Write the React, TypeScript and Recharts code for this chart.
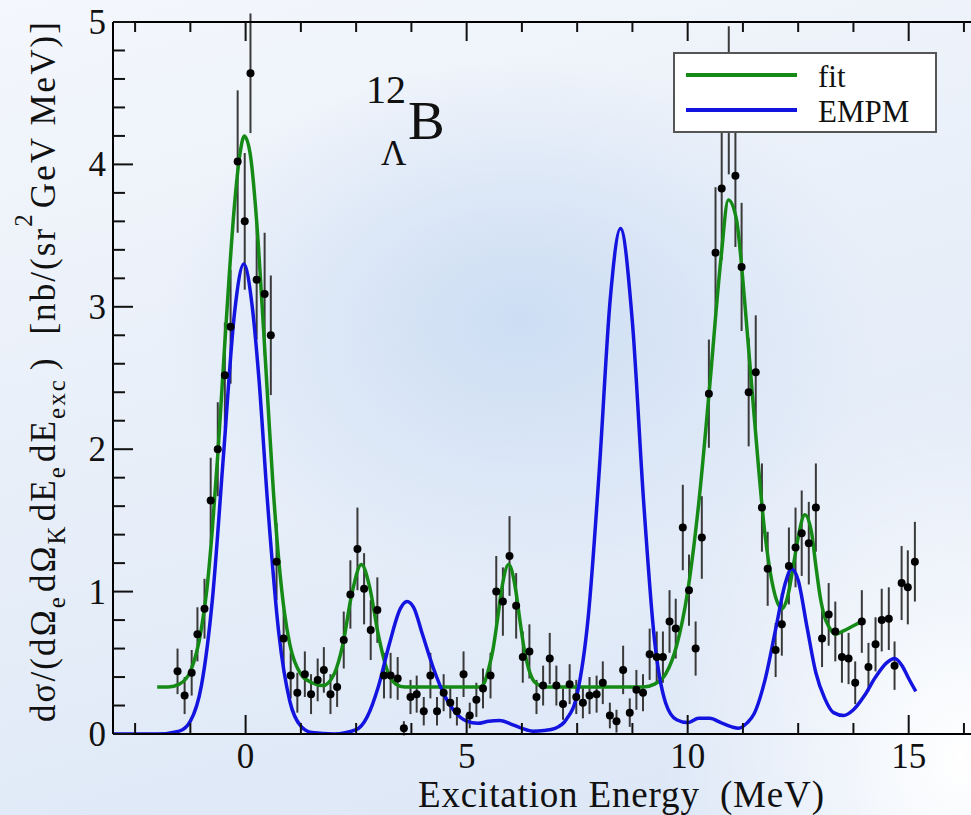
import React from "react";
import { ComposedChart, Line, Scatter, ErrorBar, XAxis, YAxis, Legend } from "recharts";

// measured cross sections (points with y error bars)
const dataEnergy = [
  -1.54, -1.38, -1.22, -1.09, -0.93, -0.79, -0.63, -0.47, -0.34, -0.18,
  -0.02, 0.11, 0.25, 0.43, 0.57, 0.7, 0.86, 1.02, 1.17, 1.34,
  1.48, 1.63, 1.77, 1.92, 2.07, 2.22, 2.37, 2.53, 2.68, 2.83,
  2.98, 3.13, 3.28, 3.44, 3.58, 3.73, 3.87, 4.03, 4.18, 4.33,
  4.48, 4.63, 4.78, 4.93, 5.07, 5.22, 5.37, 5.54, 5.67, 5.82,
  5.97, 6.12, 6.27, 6.42, 6.58, 6.73, 6.88, 7.03, 7.18, 7.33,
  7.48, 7.63, 7.78, 7.94, 8.08, 8.24, 8.39, 8.54, 8.69, 8.84,
  8.99, 9.14, 9.3, 9.44, 9.59, 9.73, 9.89, 10.03, 10.18, 10.32,
  10.48, 10.63, 10.77, 10.93, 11.08, 11.22, 11.38, 11.54, 11.68, 11.81,
  11.99, 12.13, 12.29, 12.44, 12.58, 12.74, 12.9, 13.04, 13.19, 13.34,
  13.49, 13.64, 13.79, 13.94, 14.09, 14.25, 14.39, 14.55, 14.68, 14.84,
  14.98, 15.14,
];
const dataSigma = [
  0.44, 0.27, 0.43, 0.7, 0.88, 1.64, 2.0, 2.52, 2.86, 4.02,
  3.6, 4.64, 3.19, 3.09, 2.8, 1.21, 0.67, 0.41, 0.29, 0.42,
  0.28, 0.38, 0.45, 0.28, 0.33, 0.66, 0.98, 1.3, 1.02, 0.73,
  0.87, 0.41, 0.41, 0.39, 0.04, 0.26, 0.28, 0.16, 0.41, 0.16,
  0.29, 0.22, 0.16, 0.42, 0.13, 0.24, 0.32, 0.41, 1.0, 0.93,
  1.25, 0.9, 0.54, 0.58, 0.26, 0.34, 0.53, 0.34, 0.21, 0.35,
  0.26, 0.22, 0.27, 0.28, 0.36, 0.13, 0.09, 0.45, 0.15, 0.31,
  0.29, 0.56, 0.54, 0.54, 0.79, 0.74, 1.45, 1.01, 0.6, 1.38,
  2.39, 3.38, 3.83, 4.45, 3.92, 3.28, 2.4, 2.54, 1.59, 1.16,
  0.59, 0.77, 1.18, 1.31, 1.41, 1.34, 1.59, 0.67, 0.84, 0.72,
  0.54, 0.53, 0.36, 0.79, 0.47, 0.63, 0.8, 0.81, 0.48, 1.06,
  1.03, 1.21,
];
const dataError = [
  0.16, 0.13, 0.16, 0.19, 0.21, 0.3, 0.33, 0.37, 0.4, 0.5,
  0.48, 0.42, 0.42, 0.43, 0.42, 0.27, 0.2, 0.16, 0.14, 0.16,
  0.14, 0.15, 0.16, 0.14, 0.14, 0.2, 0.24, 0.29, 0.25, 0.21,
  0.23, 0.16, 0.16, 0.15, 0.05, 0.12, 0.13, 0.1, 0.16, 0.1,
  0.13, 0.11, 0.1, 0.16, 0.09, 0.12, 0.14, 0.16, 0.25, 0.24,
  0.28, 0.23, 0.18, 0.19, 0.12, 0.14, 0.18, 0.14, 0.11, 0.14,
  0.12, 0.11, 0.13, 0.13, 0.15, 0.09, 0.08, 0.17, 0.1, 0.14,
  0.13, 0.18, 0.18, 0.18, 0.22, 0.21, 0.3, 0.25, 0.19, 0.29,
  0.38, 0.46, 0.5, 0.52, 0.5, 0.45, 0.38, 0.4, 0.31, 0.26,
  0.19, 0.22, 0.27, 0.28, 0.3, 0.29, 0.31, 0.2, 0.22, 0.21,
  0.18, 0.18, 0.15, 0.22, 0.17, 0.19, 0.22, 0.22, 0.17, 0.26,
  0.26, 0.28,
];

// fit curve
const fitEnergy = [
  -2.0, -1.75, -1.5, -1.25, -1.0, -0.875, -0.75, -0.625, -0.5, -0.375,
  -0.25, -0.125, -0.03, 0.1, 0.25, 0.375, 0.5, 0.625, 0.75, 0.875,
  1.0, 1.25, 1.5, 1.75, 2.0, 2.2, 2.4, 2.62, 2.8, 3.0,
  3.2, 3.4, 3.6, 4.5, 5.3, 5.4, 5.5, 5.6, 5.7, 5.8,
  5.95, 6.1, 6.2, 6.3, 6.4, 6.5, 6.6, 6.75, 8.0, 9.0,
  9.25, 9.5, 9.75, 10.0, 10.25, 10.5, 10.75, 10.92, 11.1, 11.3,
  11.5, 11.75, 12.0, 12.13, 12.25, 12.4, 12.5, 12.65, 12.8, 12.9,
  13.0, 13.1, 13.2, 13.34, 13.5, 13.75, 14.0,
];
const fitSigma = [
  0.33, 0.33, 0.35, 0.44, 0.74, 1.02, 1.45, 1.98, 2.6, 3.2,
  3.72, 4.08, 4.2, 4.08, 3.6, 3.0, 2.35, 1.72, 1.22, 0.86,
  0.63, 0.42, 0.36, 0.34, 0.42, 0.63, 0.98, 1.19, 1.04, 0.7,
  0.45, 0.35, 0.33, 0.33, 0.33, 0.36, 0.46, 0.6, 0.81, 1.03,
  1.19, 1.03, 0.81, 0.6, 0.46, 0.38, 0.35, 0.33, 0.33, 0.33,
  0.35, 0.42, 0.62, 1.0, 1.62, 2.45, 3.33, 3.75, 3.62, 3.0,
  2.25, 1.4, 0.95, 0.88, 0.95, 1.2, 1.38, 1.54, 1.42, 1.18,
  0.96, 0.82, 0.75, 0.7, 0.72, 0.76, 0.8,
];

// EMPM calculation
const empmEnergy = [
  -3.0, -2.0, -1.5, -1.25, -1.0, -0.75, -0.5, -0.25, -0.04, 0.15,
  0.3, 0.5, 0.75, 1.0, 1.25, 1.5, 2.0, 2.5, 2.75, 3.0,
  3.25, 3.5, 3.65, 3.8, 4.0, 4.25, 4.5, 4.75, 5.0, 5.25,
  5.5, 5.75, 6.0, 6.25, 6.5, 6.75, 7.0, 7.25, 7.5, 7.75,
  8.0, 8.25, 8.48, 8.75, 9.0, 9.25, 9.5, 9.75, 10.0, 10.25,
  10.5, 10.75, 11.0, 11.15, 11.35, 11.5, 11.75, 12.0, 12.2, 12.35,
  12.5, 12.7, 12.9, 13.1, 13.3, 13.53, 13.75, 14.0, 14.25, 14.5,
  14.68, 14.85, 15.0, 15.16,
];
const empmSigma = [
  0, 0, 0.02, 0.09, 0.34, 0.95, 1.96, 2.96, 3.3, 3.0,
  2.5, 1.61, 0.71, 0.23, 0.055, 0.01, 0, 0.03, 0.12, 0.33,
  0.63, 0.88, 0.93, 0.89, 0.7, 0.46, 0.27, 0.15, 0.09, 0.075,
  0.09, 0.095, 0.07, 0.04, 0.02, 0.025, 0.04, 0.1, 0.28, 0.82,
  1.85, 3.06, 3.55, 2.89, 1.65, 0.66, 0.22, 0.1, 0.08, 0.11,
  0.11, 0.08, 0.05, 0.04, 0.08, 0.14, 0.38, 0.75, 1.05, 1.16,
  1.08, 0.75, 0.43, 0.25, 0.15, 0.13, 0.17, 0.27, 0.4, 0.5,
  0.53, 0.48, 0.39, 0.3,
];

const xTicks = [-2.5, -1.25, 0, 1.25, 2.5, 3.75, 5, 6.25, 7.5, 8.75, 10, 11.25, 12.5, 13.75, 15, 16.25];
const yTicks = [
  0, 0.2, 0.4, 0.6, 0.8, 1, 1.2, 1.4, 1.6, 1.8, 2, 2.2, 2.4, 2.6, 2.8,
  3, 3.2, 3.4, 3.6, 3.8, 4, 4.2, 4.4, 4.6, 4.8, 5,
];

const seriesNames = ["fit", "EMPM"];
const seriesColors = ["#168a16", "#1414e0"];

const FONT = "Liberation Serif, DejaVu Serif, serif";
const serif = { fontFamily: FONT };

const points = dataEnergy.map((x, i) => ({ x, y: dataSigma[i], err: dataError[i] }));
const fitData = fitEnergy.map((x, i) => ({ x, y: fitSigma[i] }));
const empmData = empmEnergy.map((x, i) => ({ x, y: empmSigma[i] }));

function BottomTick(props: any) {
  const { x, y, payload } = props;
  const major = payload.value % 5 === 0;
  return (
    <g>
      <line x1={x} y1={y} x2={x} y2={y - (major ? 19 : 11)} stroke="#111" strokeWidth={2} />
      {major && (
        <text x={x} y={y + 34} textAnchor="middle" fontSize={35} style={serif} fill="#111">
          {payload.value}
        </text>
      )}
    </g>
  );
}

function TopTick(props: any) {
  const { x, y, payload } = props;
  const major = payload.value % 5 === 0;
  return <line x1={x} y1={y} x2={x} y2={y + (major ? 19 : 10)} stroke="#111" strokeWidth={2} />;
}

function LeftTick(props: any) {
  const { x, y, payload } = props;
  const major = Number.isInteger(payload.value);
  return (
    <g>
      <line x1={x} y1={y} x2={x + (major ? 20 : 12)} y2={y} stroke="#111" strokeWidth={2} />
      {major && (
        <text x={x - 7} y={y + 12} textAnchor="end" fontSize={35} style={serif} fill="#111">
          {payload.value}
        </text>
      )}
    </g>
  );
}

function XTitle() {
  return (
    <text
      x={621}
      y={807}
      textAnchor="middle"
      fontSize={37}
      textLength={406}
      style={{ ...serif, whiteSpace: "pre" }}
      fill="#111"
    >
      {"Excitation Energy  (MeV)"}
    </text>
  );
}

function YTitle() {
  const cx = 55;
  const cy = 372;
  const sub = { fontSize: 25 };
  return (
    <text
      x={cx}
      y={cy}
      transform={`rotate(-90 ${cx} ${cy})`}
      textAnchor="middle"
      fontSize={35}
      textLength={700}
      style={{ ...serif, whiteSpace: "pre" }}
      fill="#111"
    >
      dσ/(dΩ
      <tspan {...sub} dy={10}>e</tspan>
      <tspan dy={-10} dx={3}>dΩ</tspan>
      <tspan {...sub} dy={10}>K</tspan>
      <tspan dy={-10} dx={3}>dE</tspan>
      <tspan {...sub} dy={10}>e</tspan>
      <tspan dy={-10} dx={3}>dE</tspan>
      <tspan {...sub} dy={10}>exc</tspan>
      <tspan dy={-10} dx={8}>{")  [nb/(sr"}</tspan>
      <tspan {...sub} dy={-23}>2</tspan>
      <tspan dy={23} dx={4}>{"GeV MeV)]"}</tspan>
    </text>
  );
}

function LegendBox() {
  return (
    <svg width={264} height={81} style={{ display: "block" }}>
      <rect x={1} y={1} width={262} height={79} fill="#fff" stroke="#555" strokeWidth={2} />
      {seriesNames.map((name, i) => (
        <g key={name}>
          <line x1={13} x2={124} y1={23 + i * 35} y2={23 + i * 35} stroke={seriesColors[i]} strokeWidth={4} />
          <text x={145} y={35 + i * 35} fontSize={31} style={serif} fill="#111">
            {name}
          </text>
        </g>
      ))}
    </svg>
  );
}

function Dot(props: any) {
  const { cx, cy } = props;
  return <circle cx={cx} cy={cy} r={4} fill="#000" />;
}

export default function App() {
  return (
    <div
      style={{
        position: "absolute",
        left: 0,
        top: 0,
        width: 971,
        height: 815,
        overflow: "hidden",
        background:
          "radial-gradient(ellipse 360px 260px at 520px 320px, rgba(203,220,243,0.95), rgba(203,220,243,0) 100%)," +
          "radial-gradient(ellipse 300px 380px at 960px 760px, #ffffff, rgba(255,255,255,0) 100%)," +
          "linear-gradient(165deg, #f4f7fc 0%, #e8eff9 45%, #dbe6f6 100%)",
      }}
    >
      <ComposedChart width={985} height={815} margin={{ top: 0, right: 10, bottom: 0, left: 0 }}>
        <XAxis
          dataKey="x"
          type="number"
          domain={[-3, 16.5]}
          ticks={xTicks}
          interval={0}
          height={81}
          allowDataOverflow
          axisLine={{ stroke: "#000", strokeWidth: 2 }}
          tickLine={false}
          tickSize={0}
          tickMargin={0}
          tick={<BottomTick />}
          label={<XTitle />}
        />
        <XAxis
          xAxisId="top"
          orientation="top"
          dataKey="x"
          type="number"
          domain={[-3, 16.5]}
          ticks={xTicks}
          interval={0}
          height={22}
          allowDataOverflow
          axisLine={{ stroke: "#000", strokeWidth: 2 }}
          tickLine={false}
          tickSize={0}
          tickMargin={0}
          tick={<TopTick />}
        />
        <YAxis
          dataKey="y"
          type="number"
          domain={[0, 5]}
          ticks={yTicks}
          interval={0}
          width={113}
          allowDataOverflow
          axisLine={{ stroke: "#000", strokeWidth: 2 }}
          tickLine={false}
          tickSize={0}
          tickMargin={0}
          tick={<LeftTick />}
          label={<YTitle />}
        />
        <Scatter data={points} dataKey="y" shape={<Dot />} isAnimationActive={false} legendType="none">
          <ErrorBar dataKey="err" direction="y" width={0} stroke="#3a3a3a" strokeWidth={2} />
        </Scatter>
        <Line
          data={fitData}
          dataKey="y"
          name={seriesNames[0]}
          type="monotone"
          stroke={seriesColors[0]}
          strokeWidth={3.5}
          dot={false}
          isAnimationActive={false}
        />
        <Line
          data={empmData}
          dataKey="y"
          name={seriesNames[1]}
          type="monotone"
          stroke={seriesColors[1]}
          strokeWidth={3.5}
          dot={false}
          isAnimationActive={false}
        />
        <Legend
          layout="vertical"
          verticalAlign="middle"
          align="center"
          content={<LegendBox />}
          wrapperStyle={{ top: 52, left: 673, width: 264, height: 81 }}
        />
      </ComposedChart>
      <svg
        width={971}
        height={815}
        style={{ position: "absolute", left: 0, top: 0, pointerEvents: "none" }}
      >
        <text x={366} y={103} fontSize={40} style={serif} fill="#111">12</text>
        <text x={381} y={165} fontSize={35} style={serif} fill="#111">Λ</text>
        <text x={408} y={139} fontSize={55} style={serif} fill="#111">B</text>
      </svg>
    </div>
  );
}
